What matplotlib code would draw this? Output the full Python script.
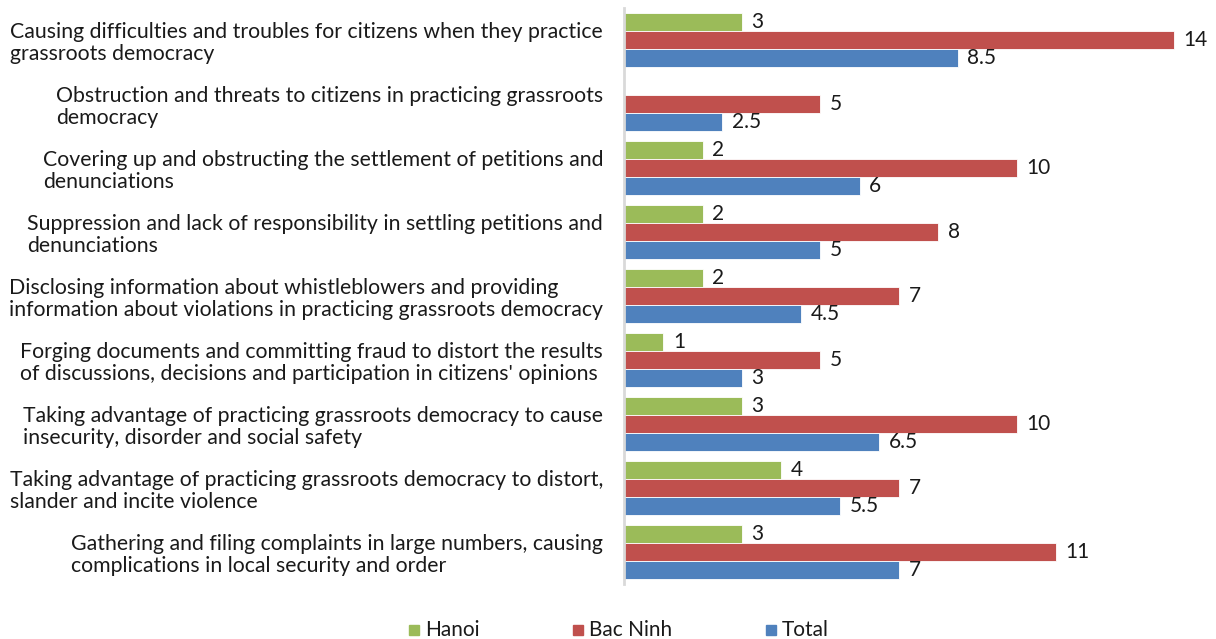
import matplotlib
matplotlib.use("Agg")
import matplotlib.pyplot as plt
import numpy as np
from matplotlib.patches import Rectangle

plt.rcParams['font.family'] = ['Lato', 'DejaVu Sans']

categories = [
    "Causing difficulties and troubles for citizens when they practice\ngrassroots democracy",
    "Obstruction and threats to citizens in practicing grassroots\ndemocracy",
    "Covering up and obstructing the settlement of petitions and\ndenunciations",
    "Suppression and lack of responsibility in settling petitions and\ndenunciations",
    "Disclosing information about whistleblowers and providing\ninformation about violations in practicing grassroots democracy",
    "Forging documents and committing fraud to distort the results\nof discussions, decisions and participation in citizens' opinions",
    "Taking advantage of practicing grassroots democracy to cause\ninsecurity, disorder and social safety",
    "Taking advantage of practicing grassroots democracy to distort,\nslander and incite violence",
    "Gathering and filing complaints in large numbers, causing\ncomplications in local security and order",
]
hanoi = [3, 0, 2, 2, 2, 1, 3, 4, 3]
bac_ninh = [14, 5, 10, 8, 7, 5, 10, 7, 11]
total = [8.5, 2.5, 6, 5, 4.5, 3, 6.5, 5.5, 7]
series_names = ["Hanoi", "Bac Ninh", "Total"]
colors = ["#9BBB59", "#C0504D", "#4F81BD"]

fig = plt.figure(figsize=(12.16, 6.39), dpi=100)
ax = fig.add_axes([624 / 1216, 55 / 639, 589 / 1216, 576 / 639])

n = len(categories)
y = np.arange(n)
h = 0.28
fs = 15

for i, (vals, col) in enumerate(zip([hanoi, bac_ninh, total], colors)):
    pos = y + (i - 1) * h
    bars = ax.barh(pos, vals, height=h, color=col, edgecolor="white", linewidth=0.6)
    labels = [("%g" % v) if v else "" for v in vals]
    ax.bar_label(bars, labels=labels, padding=7, fontsize=fs, color="#1a1a1a")

ax.set_yticks(y)
ax.set_yticklabels(categories, fontsize=15.3, color="#1a1a1a", multialignment="left",
                   linespacing=1.1)
ax.tick_params(axis="y", length=0, pad=15)
ax.set_ylim(n - 0.5, -0.5)
ax.set_xlim(0, 15)
ax.set_xticks([])
for s in ["top", "right", "bottom"]:
    ax.spines[s].set_visible(False)
ax.spines["left"].set_color("#d9d9d9")
ax.spines["left"].set_linewidth(2)

# legend drawn as square swatches with text along the bottom
legend_x = [409, 573, 766]
for name, col, xpx in zip(series_names, colors, legend_x):
    fig.add_artist(Rectangle((xpx / 1216, (639 - 635) / 639), 10 / 1216, 10 / 639,
                             transform=fig.transFigure, color=col))
    fig.text((xpx + 16) / 1216, (639 - 630) / 639, name, fontsize=fs, color="#1a1a1a",
             ha="left", va="center")

fig.savefig("out.png", dpi=100)
